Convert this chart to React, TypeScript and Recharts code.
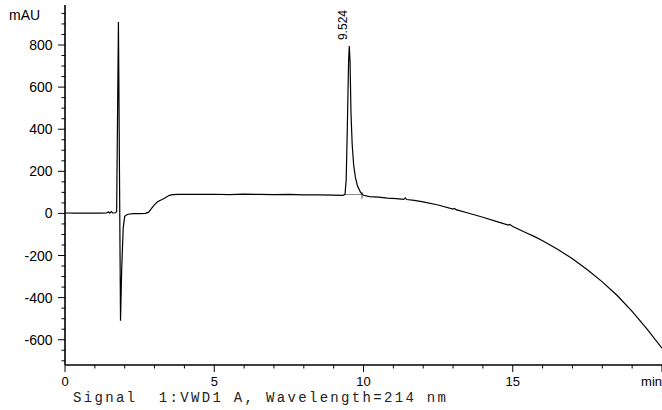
import { LineChart, Line, XAxis, YAxis, ReferenceLine, ReferenceDot } from 'recharts';

// retention time (min) and detector signal (mAU)
const timeMin = [
  0, 0.3, 0.6, 0.9, 1.2, 1.4, 1.45, 1.5, 1.55, 1.6, 1.7, 1.73, 1.79, 1.86, 1.9, 1.95,
  2.0, 2.1, 2.3, 2.5, 2.7, 2.8, 2.9, 3.0, 3.1, 3.2, 3.3, 3.4, 3.5, 3.6, 3.8, 4.0,
  4.5, 5.0, 5.5, 6.0, 6.5, 7.0, 7.5, 8.0, 8.5, 9.0, 9.3, 9.38, 9.42, 9.46, 9.5,
  9.524, 9.55, 9.58, 9.62, 9.67, 9.73, 9.8, 9.9, 10.0, 10.2, 10.5, 10.8, 11.1,
  11.35, 11.4, 11.45, 11.7, 12.0, 12.5, 13.0, 13.05, 13.1, 13.5, 14.0, 14.5, 14.85,
  14.9, 15.0, 15.5, 15.7, 16.0, 16.5, 17.0, 17.5, 18.0, 18.5, 19.0, 19.5, 20.0,
];
const signalMAU = [
  2, 1, 2, 1, 1, 2, 8, 1, 9, 2, 3, 10, 909, -510, -260, -70,
  -14, -4, -1, -1, 0, 6, 24, 42, 55, 63, 70, 78, 86, 89, 90, 91,
  90, 91, 89, 92, 90, 89, 90, 88, 88, 87, 86, 90, 160, 420, 720,
  795, 720, 480, 330, 230, 170, 130, 100, 86, 80, 77, 73, 70,
  67, 74, 66, 62, 55, 40, 21, 24, 18, 2, -18, -40, -55,
  -52, -62, -95, -108, -130, -170, -215, -268, -325, -390, -465, -550, -640,
];

const peakTime = 9.524;
const peakHeight = 795;
const peakLabel = '9.524';
const integrationStart = 9.39;
const integrationEnd = 9.95;
const integrationLevel = 90;

const xTicks = Array.from({ length: 21 }, (_, i) => i);
const xLabels: Record<number, string> = { 0: '0', 5: '5', 10: '10', 15: '15', 20: 'min' };
const yTicks = Array.from({ length: 34 }, (_, i) => -700 + i * 50);
const yLabels = [-600, -400, -200, 0, 200, 400, 600, 800];

const data = timeMin.map((t, i) => ({ t, v: signalMAU[i] }));

const sans = '"Liberation Sans", Arial, sans-serif';
const mono = '"Liberation Mono", "Courier New", monospace';

const YTick = ({ x, y, payload }: any) => {
  const major = yLabels.includes(payload.value);
  return (
    <g>
      <line x1={x - (major ? 7 : 3.5)} x2={x} y1={y} y2={y} stroke="#000" strokeWidth={1} />
      {major && (
        <text x={x - 12.5} y={y} dy={5} textAnchor="end" fontSize={14} fontFamily={sans} fill="#000">
          {payload.value}
        </text>
      )}
    </g>
  );
};

const XTick = ({ x, y, payload }: any) => {
  const label = xLabels[payload.value];
  const last = payload.value === 20;
  return (
    <g>
      <line x1={x} x2={x} y1={y} y2={y + (label ? 7 : 3.5)} stroke="#000" strokeWidth={1} />
      {label && (
        <text
          x={x}
          y={y + 21}
          textAnchor={last ? 'end' : 'middle'}
          fontSize={13}
          fontFamily={sans}
          fill="#000"
        >
          {label}
        </text>
      )}
    </g>
  );
};

const PeakLabel = ({ viewBox }: any) => {
  const cx = viewBox.x + viewBox.width / 2;
  const cy = viewBox.y + viewBox.height / 2;
  return (
    <text
      transform={`translate(${cx - 2}, ${cy - 6}) rotate(-90)`}
      fontSize={12}
      fontFamily={sans}
      fill="#000"
    >
      {peakLabel}
    </text>
  );
};

export default function App() {
  return (
    <div style={{ position: 'relative', width: 662, height: 410 }}>
      <style>{`body{margin:0}`}</style>
      <LineChart width={662} height={410} data={data} margin={{ top: 5, right: 0, bottom: 15, left: 0 }}>
        <XAxis
          dataKey="t"
          type="number"
          domain={[0, 20]}
          ticks={xTicks}
          interval={0}
          allowDataOverflow
          height={30}
          tickSize={0}
          tickMargin={0}
          tickLine={false}
          tick={<XTick />}
          axisLine={{ stroke: '#000', strokeWidth: 1.6 }}
        />
        <YAxis
          type="number"
          domain={[-720, 990]}
          ticks={yTicks}
          interval={0}
          allowDataOverflow
          width={65}
          tickSize={0}
          tickMargin={0}
          tickLine={false}
          tick={<YTick />}
          axisLine={{ stroke: '#000', strokeWidth: 1.6 }}
        />
        <ReferenceLine
          segment={[
            { x: integrationStart, y: integrationLevel },
            { x: integrationEnd, y: integrationLevel },
          ]}
          stroke="#888"
          strokeWidth={1}
        />
        <ReferenceLine
          segment={[
            { x: integrationEnd, y: integrationLevel + 12 },
            { x: integrationEnd, y: integrationLevel - 20 },
          ]}
          stroke="#555"
          strokeWidth={1}
        />
        <Line
          dataKey="v"
          type="linear"
          stroke="#000"
          strokeWidth={1.2}
          dot={false}
          isAnimationActive={false}
        />
        <ReferenceDot x={peakTime} y={peakHeight} r={0} stroke="none" label={{ content: PeakLabel }} />
      </LineChart>
      <svg
        width={662}
        height={410}
        style={{ position: 'absolute', left: 0, top: 0, pointerEvents: 'none' }}
      >
        <text x={9} y={20} fontSize={14} fontFamily={sans} fill="#000">
          mAU
        </text>
        <text
          x={73}
          y={402}
          fontSize={14}
          fontFamily={mono}
          fill="#222"
          textLength={373}
          lengthAdjust="spacing"
          style={{ whiteSpace: 'pre' }}
        >
          {'Signal  1:VWD1 A, Wavelength=214 nm'}
        </text>
      </svg>
    </div>
  );
}
